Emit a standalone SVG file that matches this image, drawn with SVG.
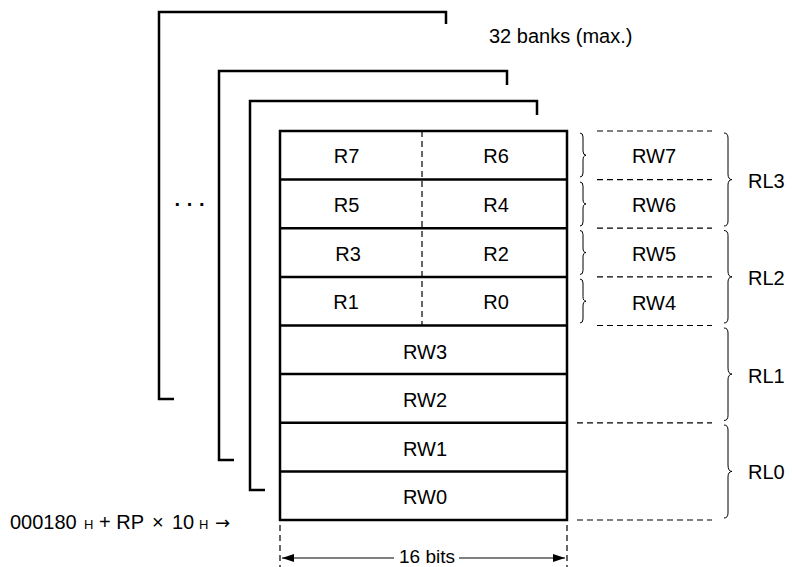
<svg xmlns="http://www.w3.org/2000/svg" width="792" height="567" viewBox="0 0 792 567">
<defs>
<style>
.t{font-family:"Liberation Sans",Arial,sans-serif;font-size:20px;fill:#000}
.m{text-anchor:middle}
.bk{fill:none;stroke:#000;stroke-width:2.5}
.ln{fill:none;stroke:#000;stroke-width:2.5}
.ds{fill:none;stroke:#000;stroke-width:1.2;stroke-dasharray:6,4}
.br{fill:none;stroke:#000;stroke-width:1}
.sub{font-size:13px}
</style>
<marker id="ah" viewBox="0 0 12 8" refX="12" refY="4" markerWidth="12" markerHeight="8" markerUnits="userSpaceOnUse" orient="auto-start-reverse">
<path d="M0,0 L12,4 L0,8 Z" fill="#000"/>
</marker>
</defs>
<rect width="792" height="567" fill="#fff"/>

<g id="bank-frames">
<path class="bk" d="M174,399 H159 V12 H446 V24"/>
<path class="bk" d="M234,460 H219 V71 H507 V85"/>
<path class="bk" d="M265,490 H250 V101 H537 V115"/>
<text class="t" x="489" y="43">32 banks (max.)</text>
<text class="t m" x="190" y="211" style="font-weight:bold">· · ·</text>
</g>

<g id="register-bank">
<rect class="ln" x="280" y="131" width="287" height="389"/>
<path class="ln" d="M280,179.6 H567 M280,228.2 H567 M280,276.9 H567 M280,325.5 H567 M280,374.1 H567 M280,422.8 H567 M280,471.4 H567"/>
<path class="ds" d="M422,131 V325.5"/>
<text class="t m" x="346.5" y="163">R7</text>
<text class="t m" x="496" y="163">R6</text>
<text class="t m" x="346.5" y="212">R5</text>
<text class="t m" x="496" y="212">R4</text>
<text class="t m" x="348" y="260.5">R3</text>
<text class="t m" x="496" y="260.5">R2</text>
<text class="t m" x="346" y="309">R1</text>
<text class="t m" x="496" y="309">R0</text>
<text class="t m" x="425" y="359">RW3</text>
<text class="t m" x="425" y="407">RW2</text>
<text class="t m" x="425" y="455.5">RW1</text>
<text class="t m" x="425" y="504">RW0</text>
</g>

<g id="word-labels">
<path class="ds" d="M597,131 H712 M597,179.6 H712 M597,228.2 H712 M597,276.9 H712 M597,325.5 H712 M577,422.8 H712 M577,520 H712"/>
<path class="br" d="M580,133 Q583,133 583,137 V151 Q583,155 586,155.3 Q583,155.6 583,160 V173 Q583,177 580,177"/>
<path class="br" d="M580,182 Q583,182 583,186 V199 Q583,203.9 586,203.9 Q583,204 583,209 V222 Q583,226 580,226"/>
<path class="br" d="M580,230.5 Q583,230.5 583,234.5 V248 Q583,252.5 586,252.5 Q583,252.7 583,257 V270.5 Q583,274.5 580,274.5"/>
<path class="br" d="M580,279 Q583,279 583,283 V296.5 Q583,301.2 586,301.2 Q583,301.4 583,306 V319 Q583,323 580,323"/>
<text class="t m" x="654" y="163">RW7</text>
<text class="t m" x="654" y="212">RW6</text>
<text class="t m" x="654" y="260.5">RW5</text>
<text class="t m" x="654" y="309.5">RW4</text>
</g>

<g id="long-labels">
<path class="br" d="M724,133 Q728,133 728,138 V174 Q728,179.6 732,179.6 Q728,179.8 728,185 V221 Q728,226 724,226"/>
<path class="br" d="M724,230.5 Q728,230.5 728,235.5 V271 Q728,276.9 732,276.9 Q728,277.1 728,282 V318 Q728,323 724,323"/>
<path class="br" d="M724,328 Q728,328 728,333 V368 Q728,374.1 732,374.1 Q728,374.3 728,380 V415.5 Q728,420.5 724,420.5"/>
<path class="br" d="M724,425 Q728,425 728,430 V465 Q728,471.4 732,471.4 Q728,471.6 728,477 V513 Q728,518 724,518"/>
<text class="t" x="748" y="188">RL3</text>
<text class="t" x="748" y="285">RL2</text>
<text class="t" x="748" y="383">RL1</text>
<text class="t" x="748" y="479">RL0</text>
</g>

<g id="address-label">
<text class="t" y="529"><tspan x="10">000180</tspan><tspan class="sub" x="84">H</tspan><tspan x="99">+ RP</tspan><tspan x="152">×</tspan><tspan x="172">10</tspan><tspan class="sub" x="199">H</tspan><tspan x="215" style="font-family:'DejaVu Sans',sans-serif;font-size:18px">→</tspan></text>
</g>

<g id="connectors">
<path class="ds" d="M280,525 V567 M567,525 V567"/>
<path class="br" stroke-width="1.2" d="M394,558 H282" marker-end="url(#ah)"/>
<path class="br" stroke-width="1.2" d="M459,558 H565" marker-end="url(#ah)"/>
<text class="t m" x="427" y="563" style="font-size:19px">16 bits</text>
</g>
</svg>
